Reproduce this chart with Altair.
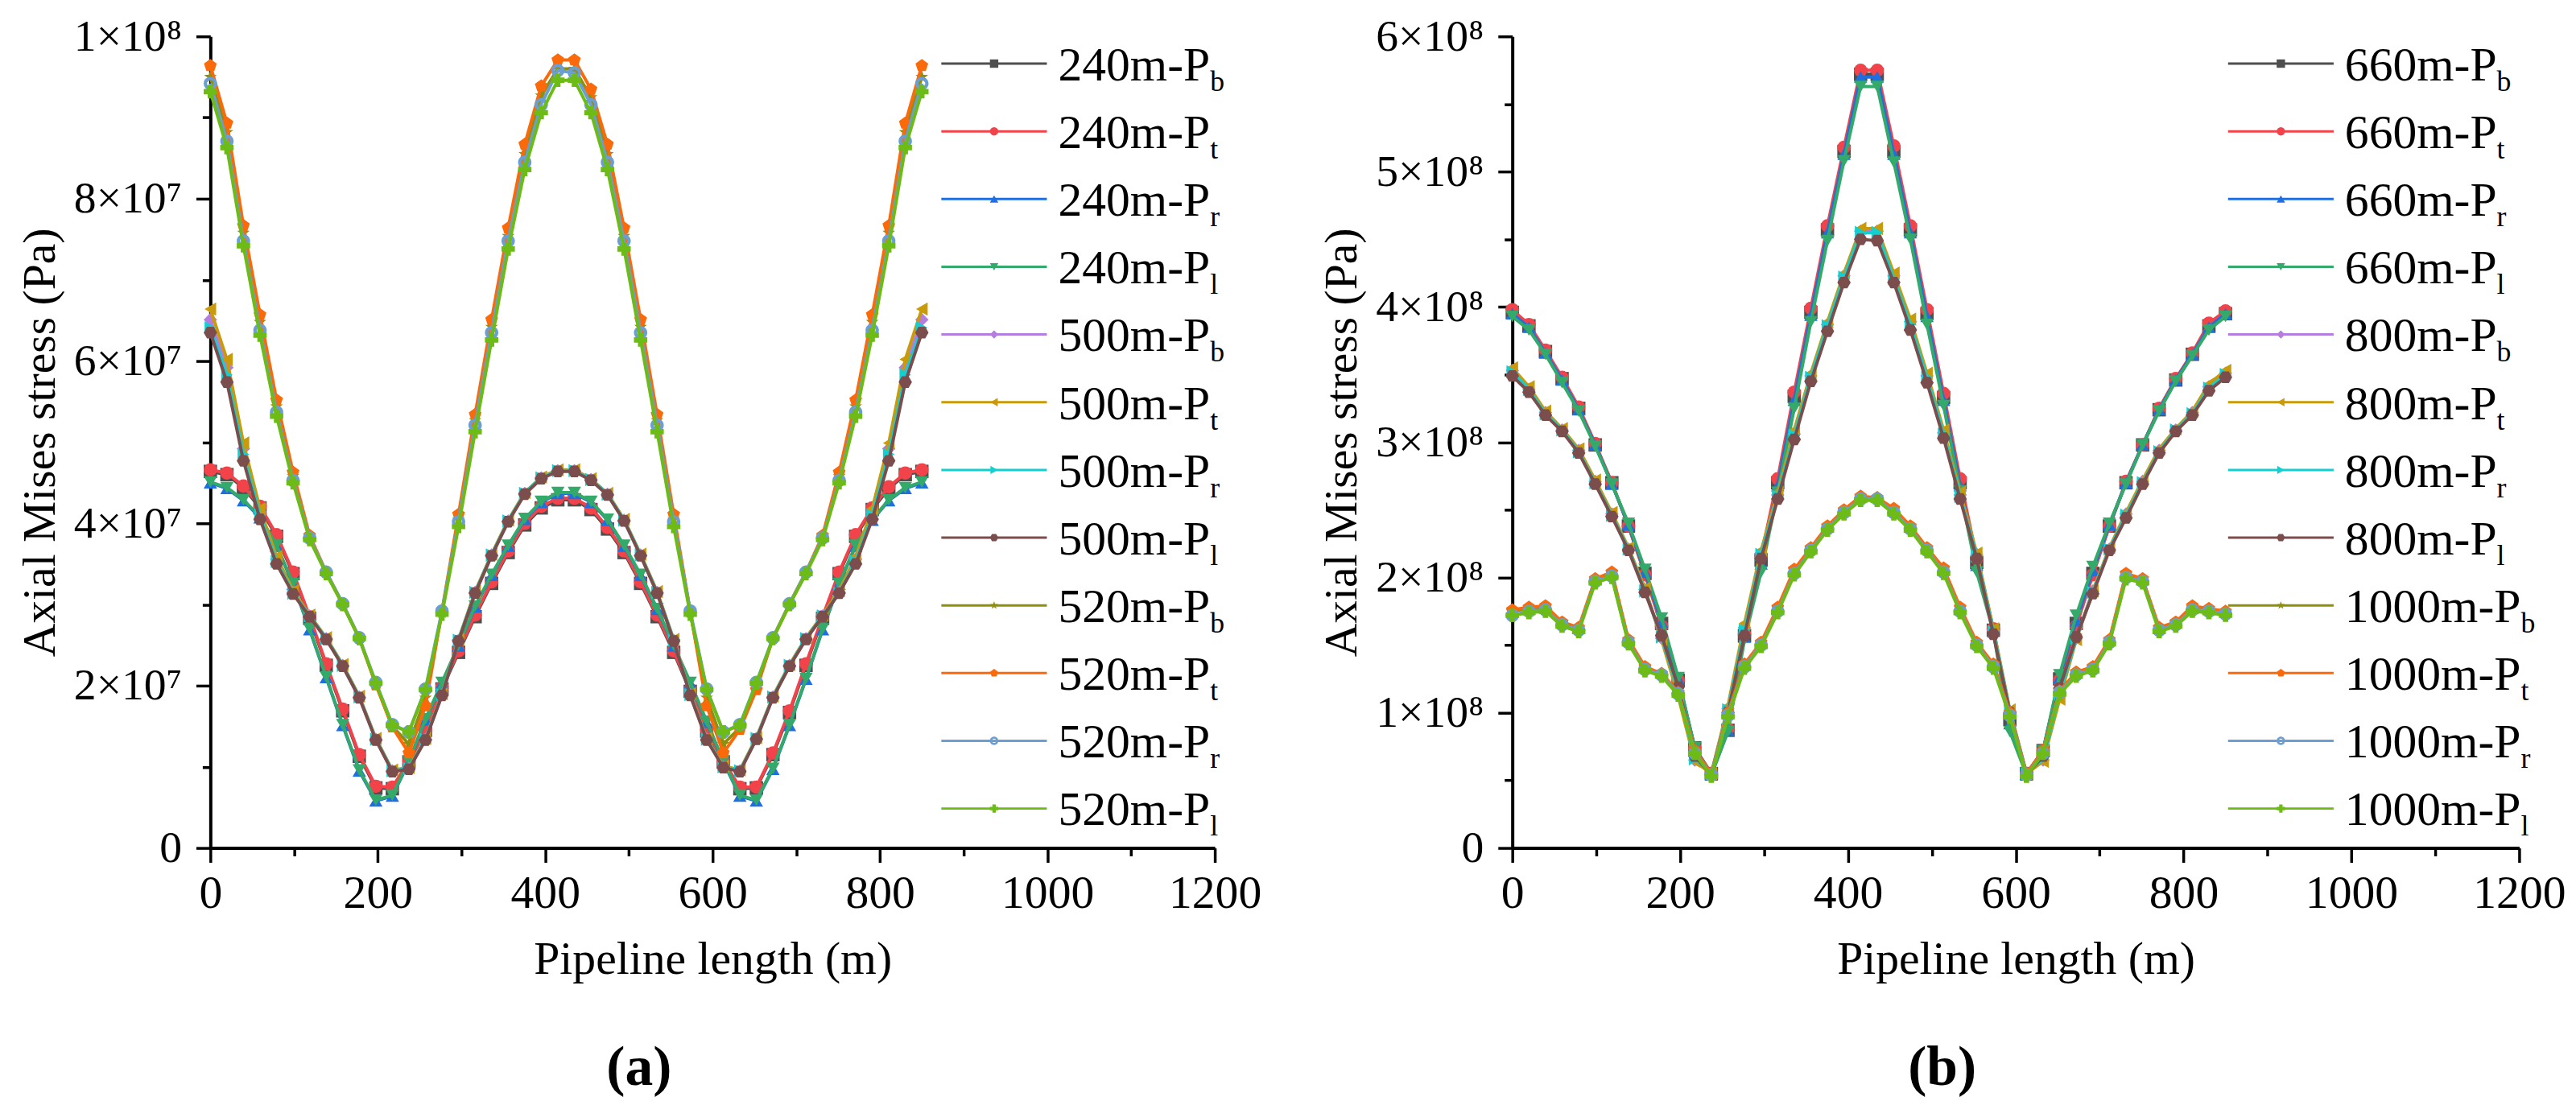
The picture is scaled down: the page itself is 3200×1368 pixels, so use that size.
import pandas as pd
import altair as alt

FONT = "Liberation Serif"

# stations along the pipeline (m), shared by both panels
X_M = [0, 19.8, 39.5, 59.3, 79.1, 98.8, 118.6, 138.4, 158.1, 177.9, 197.7, 217.4,
       237.2, 257.0, 276.7, 296.5, 316.3, 336.0, 355.8, 375.6, 395.3, 415.1,
       434.9, 454.7, 474.4, 494.2, 514.0, 533.7, 553.5, 573.3, 593.0, 612.8,
       632.6, 652.3, 672.1, 691.9, 711.6, 731.4, 751.2, 770.9, 790.7, 810.5,
       830.2, 850.0]

# panel (a), stress in 1e6 Pa
P240_B = [46.4, 46.0, 44.4, 41.9, 38.4, 33.8, 28.3, 22.5, 16.9, 11.3, 7.4, 7.3, 10.6, 14.5, 19.6, 24.1, 28.5, 32.6, 36.4, 39.8, 41.9, 42.9,
          42.9, 41.7, 39.3, 36.4, 32.6, 28.5, 24.1, 19.3, 14.4, 10.6, 7.3, 7.4, 11.5, 16.7, 22.5, 28.3, 33.8, 38.4, 41.7, 44.3, 46.0, 46.4]
P240_T = [46.6, 46.2, 44.6, 42.1, 38.6, 34.0, 28.5, 22.7, 17.1, 11.5, 7.6, 7.5, 10.7, 14.6, 19.8, 24.3, 28.7, 32.8, 36.6, 40.0, 42.1, 43.1,
          43.1, 41.9, 39.5, 36.6, 32.8, 28.7, 24.3, 19.5, 14.6, 10.7, 7.5, 7.5, 11.7, 16.9, 22.7, 28.5, 34.0, 38.6, 41.9, 44.5, 46.2, 46.6]
P240_R = [45.0, 44.3, 42.8, 40.7, 37.2, 32.5, 26.9, 21.0, 15.1, 9.5, 5.8, 6.4, 10.6, 15.8, 20.3, 24.9, 29.7, 33.6, 37.2, 40.5, 42.6, 43.7,
          43.7, 42.6, 40.4, 37.2, 33.6, 29.4, 24.9, 20.3, 15.5, 10.6, 6.4, 5.8, 9.7, 15.1, 20.8, 26.9, 32.5, 37.2, 40.4, 42.8, 44.3, 45.0]
P240_L = [45.1, 44.4, 42.9, 40.8, 37.3, 32.6, 27.0, 21.1, 15.2, 9.6, 5.9, 6.5, 10.7, 15.9, 20.4, 25.0, 29.8, 33.7, 37.3, 40.6, 42.7, 43.8,
          43.8, 42.7, 40.5, 37.3, 33.7, 29.5, 25.0, 20.4, 15.6, 10.7, 6.5, 5.9, 9.8, 15.2, 20.9, 27.0, 32.6, 37.3, 40.5, 42.9, 44.4, 45.1]
P500_B = [65.1, 59.2, 49.2, 41.4, 35.6, 31.5, 28.6, 25.8, 22.5, 18.6, 13.4, 9.5, 9.8, 13.4, 18.9, 25.6, 31.5, 36.1, 40.3, 43.7, 45.6, 46.5,
          46.5, 45.4, 43.6, 40.4, 36.1, 31.5, 25.6, 18.9, 13.4, 10.0, 9.5, 13.5, 18.6, 22.5, 25.8, 28.6, 31.5, 35.6, 41.4, 49.2, 59.2, 65.1]
P500_T = [66.4, 60.2, 49.9, 41.8, 35.9, 31.7, 28.7, 25.9, 22.6, 18.7, 13.5, 9.6, 9.9, 13.5, 19.0, 25.7, 31.6, 36.2, 40.4, 43.8, 45.7, 46.6,
          46.6, 45.5, 43.7, 40.5, 36.2, 31.6, 25.7, 19.0, 13.5, 10.1, 9.6, 13.6, 18.7, 22.6, 25.9, 28.7, 31.7, 35.9, 41.8, 49.9, 60.2, 66.4]
P500_R = [64.1, 58.3, 48.5, 41.0, 35.3, 31.4, 28.6, 25.8, 22.5, 18.6, 13.4, 9.5, 9.8, 13.4, 18.9, 25.6, 31.5, 36.1, 40.3, 43.7, 45.6, 46.5,
          46.5, 45.4, 43.6, 40.4, 36.1, 31.5, 25.6, 18.9, 13.4, 10.0, 9.5, 13.5, 18.6, 22.5, 25.8, 28.6, 31.4, 35.3, 41.0, 48.5, 58.3, 64.1]
P500_L = [63.5, 57.4, 47.7, 40.5, 35.0, 31.3, 28.5, 25.7, 22.4, 18.5, 13.3, 9.4, 9.7, 13.3, 18.8, 25.5, 31.4, 36.0, 40.2, 43.6, 45.5, 46.4,
          46.4, 45.3, 43.5, 40.3, 36.0, 31.4, 25.5, 18.8, 13.3, 9.9, 9.4, 13.4, 18.5, 22.4, 25.7, 28.5, 31.4, 35.0, 40.5, 47.7, 57.4, 63.5]
P520_B = [95.0, 88.2, 75.8, 64.8, 54.4, 45.8, 38.3, 33.9, 30.0, 25.8, 20.2, 15.0, 12.8, 18.5, 29.0, 40.5, 52.7, 64.2, 75.4, 85.5, 92.7, 96.0,
          96.0, 92.5, 85.5, 75.4, 64.2, 52.7, 40.5, 29.0, 18.5, 12.8, 14.8, 19.8, 25.8, 30.0, 33.9, 38.3, 45.8, 54.4, 64.8, 75.8, 88.2, 95.0]
P520_T = [96.4, 89.3, 76.7, 65.7, 55.2, 46.3, 38.5, 34.0, 30.1, 25.9, 20.1, 14.9, 11.7, 17.5, 29.2, 41.1, 53.4, 65.1, 76.4, 86.7, 93.9, 97.1,
          97.1, 93.5, 86.7, 76.4, 65.1, 53.4, 41.1, 29.2, 17.5, 11.7, 14.6, 19.5, 25.9, 30.1, 34.0, 38.5, 46.3, 55.2, 65.7, 76.7, 89.3, 96.4]
P520_R = [94.2, 87.1, 74.8, 63.8, 53.7, 45.3, 38.2, 34.0, 30.1, 25.9, 20.4, 15.2, 14.3, 19.6, 29.2, 40.2, 52.1, 63.5, 74.8, 84.5, 91.6, 95.8,
          95.5, 91.6, 84.5, 74.8, 63.5, 52.1, 40.2, 29.2, 19.6, 14.3, 15.2, 20.4, 25.9, 30.1, 34.0, 38.2, 45.3, 53.7, 63.8, 74.8, 87.1, 94.2]
P520_L = [93.2, 86.3, 74.2, 63.2, 53.2, 45.0, 38.0, 33.8, 30.0, 25.8, 20.3, 15.1, 14.3, 19.5, 28.8, 39.6, 51.3, 62.6, 73.8, 83.6, 90.6, 94.6,
          94.6, 90.6, 83.6, 73.8, 62.6, 51.3, 39.6, 28.8, 19.5, 14.3, 15.1, 20.3, 25.8, 30.0, 33.8, 38.0, 45.0, 53.2, 63.2, 74.2, 86.3, 93.2]

# panel (b), stress in 1e6 Pa
P660_B = [396, 386, 367, 347, 325, 298, 270, 238, 203, 166, 124, 74, 55, 87, 157, 213, 270, 334, 396, 457, 515, 572,
          572, 515, 457, 395, 333, 270, 211, 161, 95, 55, 72, 125, 166, 203, 238, 270, 298, 324, 346, 365, 386, 395]
P660_T = [398, 387, 368, 348, 326, 299, 270, 238, 202, 164, 124, 74, 55, 88, 158, 216, 273, 337, 399, 460, 518, 575,
          575, 519, 460, 398, 336, 273, 214, 162, 98, 55, 72, 124, 164, 202, 238, 271, 298, 325, 347, 366, 388, 397]
P660_R = [395, 385, 366, 346, 324, 298, 269, 239, 204, 167, 125, 74, 54, 87, 156, 210, 268, 331, 394, 455, 513, 570,
          570, 513, 455, 393, 331, 268, 209, 161, 92, 54, 72, 126, 168, 205, 239, 270, 298, 324, 346, 365, 385, 395]
P660_L = [393, 383, 365, 344, 323, 297, 269, 240, 206, 170, 126, 74, 54, 86, 154, 204, 263, 325, 389, 449, 508, 563,
          563, 507, 450, 387, 327, 264, 204, 160, 86, 54, 72, 128, 172, 208, 240, 269, 298, 323, 345, 364, 383, 393]
P800_B = [353, 339, 322, 309, 294, 271, 247, 221, 191, 155, 114, 65, 55, 103, 163, 218, 261, 306, 349, 387, 423, 456,
          456, 423, 389, 349, 307, 261, 217, 161, 101, 55, 65, 112, 155, 190, 221, 247, 271, 294, 309, 322, 341, 351]
P800_T = [355, 341, 323, 310, 295, 272, 248, 222, 192, 154, 112, 64, 55, 105, 166, 220, 263, 309, 351, 389, 425, 458,
          458, 425, 391, 351, 309, 263, 218, 162, 102, 55, 64, 110, 154, 190, 222, 248, 272, 295, 310, 323, 343, 353]
P800_R = [352, 339, 321, 309, 293, 270, 246, 221, 190, 156, 116, 66, 55, 102, 161, 217, 260, 305, 348, 386, 422, 455,
          455, 421, 387, 348, 306, 260, 216, 160, 101, 55, 66, 114, 155, 189, 221, 246, 270, 293, 309, 321, 340, 350]
P800_L = [349, 337, 320, 308, 292, 269, 245, 220, 189, 157, 119, 68, 54, 100, 157, 214, 258, 302, 345, 382, 418, 450,
          449, 418, 383, 344, 303, 258, 214, 158, 100, 54, 68, 118, 156, 188, 220, 244, 269, 292, 308, 320, 338, 348]
P1000_B = [175, 177, 178, 166, 162, 198, 203, 153, 133, 129, 115, 71, 55, 99, 135, 151, 177, 205, 221, 237, 249, 259,
           258, 250, 237, 221, 206, 177, 151, 135, 99, 55, 71, 116, 129, 133, 153, 202, 198, 162, 166, 178, 176, 174]
P1000_T = [176, 178, 179, 167, 163, 199, 204, 154, 134, 129, 115, 72, 55, 100, 136, 152, 178, 206, 222, 238, 250, 260,
           259, 251, 238, 222, 207, 178, 152, 136, 100, 55, 72, 116, 130, 134, 154, 203, 199, 163, 167, 179, 177, 175]
P1000_R = [172, 175, 176, 165, 161, 197, 201, 152, 132, 128, 114, 70, 54, 98, 134, 150, 175, 203, 220, 236, 248, 258,
           258, 248, 236, 220, 204, 175, 150, 134, 98, 54, 70, 115, 128, 132, 152, 200, 197, 161, 165, 176, 175, 173]
P1000_L = [172, 174, 175, 164, 160, 196, 200, 151, 131, 127, 113, 70, 53, 97, 133, 149, 174, 202, 219, 235, 247, 257,
           257, 247, 235, 219, 203, 174, 149, 133, 97, 53, 70, 114, 127, 131, 151, 199, 196, 160, 164, 175, 174, 172]

NAMES_A = ["240m-Pb", "240m-Pt", "240m-Pr", "240m-Pl",
           "500m-Pb", "500m-Pt", "500m-Pr", "500m-Pl",
           "520m-Pb", "520m-Pt", "520m-Pr", "520m-Pl"]
VALUES_A = [P240_B, P240_T, P240_R, P240_L, P500_B, P500_T, P500_R, P500_L,
            P520_B, P520_T, P520_R, P520_L]
NAMES_B = ["660m-Pb", "660m-Pt", "660m-Pr", "660m-Pl",
           "800m-Pb", "800m-Pt", "800m-Pr", "800m-Pl",
           "1000m-Pb", "1000m-Pt", "1000m-Pr", "1000m-Pl"]
VALUES_B = [P660_B, P660_T, P660_R, P660_L, P800_B, P800_T, P800_R, P800_L,
            P1000_B, P1000_T, P1000_R, P1000_L]

# axis ticks
X_MAJOR = [0, 200, 400, 600, 800, 1000, 1200]
X_MINOR = [100, 300, 500, 700, 900, 1100]
Y_MAJOR_A = [0, 2e7, 4e7, 6e7, 8e7, 1e8]
Y_MINOR_A = [1e7, 3e7, 5e7, 7e7, 9e7]
Y_MAJOR_B = [0, 1e8, 2e8, 3e8, 4e8, 5e8, 6e8]
Y_MINOR_B = [0.5e8, 1.5e8, 2.5e8, 3.5e8, 4.5e8, 5.5e8]

COLORS = ["#4f4f4f", "#f2434a", "#1f6fe0", "#33a96a", "#b37ee0", "#c99a0a",
          "#14cfd0", "#7b4d4d", "#8e8e10", "#fb6a0a", "#6b9fd3", "#6cbb16"]
HEXAGON = "M-1,0L-0.5,-0.866L0.5,-0.866L1,0L0.5,0.866L-0.5,0.866Z"
STAR = ("M0,-1L0.235,-0.324L0.951,-0.309L0.38,0.124L0.588,0.809L0,0.4"
        "L-0.588,0.809L-0.38,0.124L-0.951,-0.309L-0.235,-0.324Z")
PENTAGON = "M0,-1L0.951,-0.309L0.588,0.809L-0.588,0.809L-0.951,-0.309Z"
RING = ("M-1,0A1,1,0,1,1,1,0A1,1,0,1,1,-1,0Z"
        "M-0.5,0A0.5,0.5,0,1,0,0.5,0A0.5,0.5,0,1,0,-0.5,0Z")
SHAPES = ["square", "circle", "triangle-up", "triangle-down", "diamond", "triangle-left",
          "triangle-right", HEXAGON, STAR, PENTAGON, RING, "cross"]

assert all(len(v) == len(X_M) for v in VALUES_A + VALUES_B)


def long_table(names, values):
    rows = []
    for name, vals in zip(names, values):
        for x, v in zip(X_M, vals):
            rows.append({"series": name, "x": x, "stress": v * 1e6})
    return pd.DataFrame(rows)


def major_axis(values, label_expr, label_size, label_pad, title_pad):
    return alt.Axis(values=values, labelExpr=label_expr, grid=False,
                    domainColor="black", domainWidth=4, tickColor="black",
                    tickWidth=3.5, tickSize=18,
                    labelFont=FONT, labelFontSize=label_size, labelColor="black",
                    labelPadding=label_pad, labelFlush=False, labelOverlap=False,
                    titleFont=FONT, titleFontSize=58, titleFontWeight="normal",
                    titleColor="black", titlePadding=title_pad)


def minor_axis(values, orient):
    return alt.Axis(values=values, orient=orient, labels=False, domain=False, grid=False,
                    tickColor="black", tickWidth=3.5, tickSize=10, title=None)


def panel(names, values, width, y_major, y_minor, y_labels, tag, legend_x):
    data = long_table(names, values)
    color = alt.Color("series:N", scale=alt.Scale(domain=names, range=COLORS), legend=None)
    shape = alt.Shape("series:N", scale=alt.Scale(domain=names, range=SHAPES), legend=None)
    x_scale = alt.Scale(domain=[0, 1200], nice=False, zero=False)
    y_scale = alt.Scale(domain=[0, y_major[-1]], nice=False)
    x = alt.X("x:Q", title="Pipeline length (m)", scale=x_scale,
              axis=major_axis(X_MAJOR, "format(datum.value, 'd')", 58, 10, 25))
    y = alt.Y("stress:Q", title="Axial Mises stress (Pa)", scale=y_scale,
              axis=major_axis(y_major, y_labels, 56, 18, 12))

    base = alt.Chart(data)
    layers = []
    for name in names:
        one = base.transform_filter(alt.datum.series == name)
        layers.append(one.mark_line(strokeWidth=4).encode(x=x, y=y, color=color))
        layers.append(one.mark_point(filled=True, size=280, opacity=1)
                      .encode(x=x, y=y, color=color, shape=shape))
    plot = alt.layer(*layers)

    # minor ticks, drawn by extra axes on the same scales
    minor_x = alt.Chart(pd.DataFrame({"x": X_MINOR})).mark_point(opacity=0).encode(
        x=alt.X("x:Q", scale=x_scale, axis=minor_axis(X_MINOR, "bottom")))
    minor_y = alt.Chart(pd.DataFrame({"stress": y_minor})).mark_point(opacity=0).encode(
        y=alt.Y("stress:Q", scale=y_scale, axis=minor_axis(y_minor, "left")))

    # hand-made legend, so that the P index can be a subscript
    leg = alt.Chart(pd.DataFrame({
        "series": names,
        "row": list(range(len(names))),
        "main": [n[:-1] for n in names],
        "sub": [n[-1] for n in names],
    })).transform_calculate(
        ly="34 + 84.7 * datum.row",
        sx=f"{legend_x + 146 + 190} + 30 * (length(datum.main) - 6)",
    )
    ly = alt.Y("ly:Q", scale=None, axis=None)
    legend = [
        leg.mark_rule(strokeWidth=3).encode(
            x=alt.value(legend_x), x2=alt.value(legend_x + 132), y=ly, color=color),
        leg.mark_point(filled=True, size=110, opacity=1).encode(
            x=alt.value(legend_x + 66), y=ly, color=color, shape=shape),
        leg.mark_text(align="left", baseline="alphabetic", font=FONT, fontSize=60,
                      dy=21, color="black").encode(
            x=alt.value(legend_x + 146), y=ly, text="main:N"),
        leg.mark_text(align="left", baseline="alphabetic", font=FONT, fontSize=36,
                      dy=34, color="black").encode(
            x=alt.X("sx:Q", scale=None, axis=None), y=ly, text="sub:N"),
    ]
    return alt.layer(plot, minor_x, minor_y, *legend).resolve_axis(
        x="independent", y="independent"
    ).properties(
        width=width, height=1015,
        title=alt.TitleParams(tag, orient="bottom", anchor="middle", font=FONT,
                              fontSize=70, fontWeight="bold", color="black",
                              offset=72, dx=-92))


left = panel(NAMES_A, VALUES_A, 1256, Y_MAJOR_A, Y_MINOR_A,
             "datum.value == 0 ? '0' : datum.value >= 1e8 ? '1×10⁸' : "
             "format(datum.value / 1e7, 'd') + '×10⁷'",
             "(a)", 914)
right = panel(NAMES_B, VALUES_B, 1259, Y_MAJOR_B, Y_MINOR_B,
              "datum.value == 0 ? '0' : format(datum.value / 1e8, 'd') + '×10⁸'",
              "(b)", 895)

chart = alt.hconcat(left, right, spacing=72).properties(
    background="white",
    padding={"left": 13, "top": 5, "right": 5, "bottom": 5},
).configure_view(stroke=None)

chart.save("out.html", embed_options={"renderer": "svg", "actions": False})
